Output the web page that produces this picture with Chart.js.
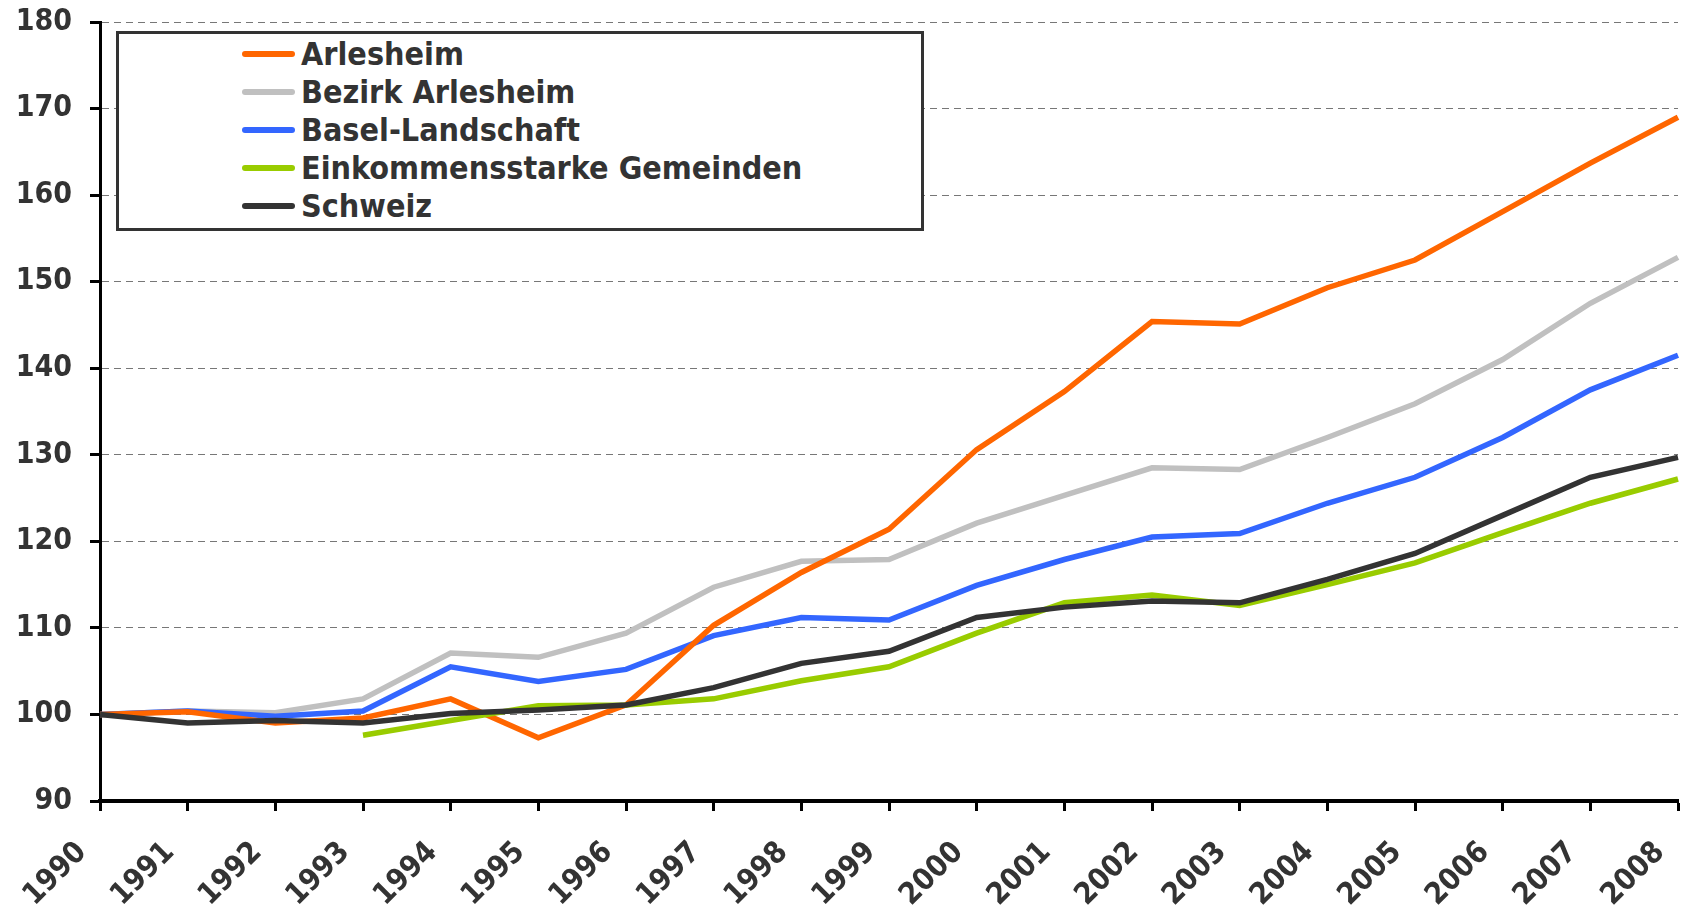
<!DOCTYPE html>
<html>
<head>
<meta charset="utf-8">
<script src="https://cdn.jsdelivr.net/npm/chart.js@4/dist/chart.umd.min.js"></script>
<style>
  html, body { margin: 0; padding: 0; background: #fff; }
  #wrap { position: relative; width: 1681px; height: 909px; }
  #legend {
    position: absolute; left: 116px; top: 31px; width: 802px; height: 194px;
    border: 3px solid #333; background: #fff;
    font-family: "DejaVu Sans Condensed", "DejaVu Sans", Verdana, sans-serif;
    font-weight: bold; font-size: 32px; color: #333;
  }
  .item { position: absolute; left: 123px; height: 38px; line-height: 38px; white-space: nowrap; }
  .swatch { position: absolute; left: 0; top: 16px; width: 53px; height: 6px; border-radius: 3px; }
  .label { position: absolute; left: 59px; top: 0; }
</style>
</head>
<body>
<div id="wrap">
  <canvas id="myChart" width="1681" height="909"></canvas>
  <div id="legend"></div>
</div>
<script>
// data
const years = ['1990', '1991', '1992', '1993', '1994', '1995', '1996', '1997', '1998', '1999',
               '2000', '2001', '2002', '2003', '2004', '2005', '2006', '2007', '2008'];
const seriesNames = ['Arlesheim', 'Bezirk Arlesheim', 'Basel-Landschaft', 'Einkommensstarke Gemeinden', 'Schweiz'];
const arlesheim = [100, 100.3, 99.0, 99.6, 101.8, 97.3, 101.1, 110.3, 116.4, 121.4, 130.6, 137.3, 145.4, 145.1, 149.3, 152.5, 158.1, 163.7, 169.0];
const bezirkArlesheim = [100, 100.4, 100.2, 101.8, 107.1, 106.6, 109.4, 114.7, 117.7, 117.9, 122.1, 125.3, 128.5, 128.3, 132.0, 135.9, 141.0, 147.5, 152.8];
const baselLandschaft = [100, 100.4, 99.8, 100.4, 105.5, 103.8, 105.2, 109.1, 111.2, 110.9, 114.9, 117.9, 120.5, 120.9, 124.4, 127.4, 132.0, 137.5, 141.5];
const einkommensstarke = [null, null, null, 97.6, 99.3, 101.0, 101.1, 101.8, 103.9, 105.5, 109.4, 112.9, 113.8, 112.6, 115.0, 117.5, 121.0, 124.4, 127.2];
const schweiz = [100, 99.0, 99.3, 99.0, 100.1, 100.5, 101.1, 103.1, 105.9, 107.3, 111.2, 112.4, 113.1, 112.9, 115.6, 118.6, 123.0, 127.4, 129.7];
const yTicks = [90, 100, 110, 120, 130, 140, 150, 160, 170, 180];

const colors = ['#FF6600', '#C0C0C0', '#3366FF', '#99CC00', '#333333'];
const allData = [arlesheim, bezirkArlesheim, baselLandschaft, einkommensstarke, schweiz];

// draw order: grey at the bottom, dark line on top
const drawOrder = [1, 2, 0, 3, 4];

const fontSpec = { family: '"DejaVu Sans Condensed", "DejaVu Sans", Verdana, sans-serif', weight: 'bold', size: 30 };

let ctx = document.getElementById('myChart').getContext('2d');
let myChart = new Chart(ctx, {
    type: 'line',
    data: {
        labels: years,
        datasets: seriesNames.map((name, i) => ({
            label: name,
            data: allData[i],
            borderColor: colors[i],
            backgroundColor: colors[i],
            borderWidth: 5.5,
            pointRadius: 0,
            tension: 0,
            fill: false,
            order: drawOrder.length - drawOrder.indexOf(i)
        }))
    },
    options: {
        responsive: false,
        animation: false,
        layout: { padding: { top: 22, right: 3, left: 0, bottom: 0 } },
        plugins: {
            legend: { display: false },
            tooltip: { enabled: false }
        },
        scales: {
            x: {
                offset: false,
                grid: { drawOnChartArea: false, tickColor: '#000', tickWidth: 3, tickLength: 10 },
                border: { color: '#000', width: 4 },
                ticks: {
                    color: '#333', font: fontSpec, minRotation: 45, maxRotation: 45,
                    padding: 24, labelOffset: -18, autoSkip: false
                },
                afterFit: s => { s.height = 108; s.paddingLeft = 0; s.paddingRight = 0; }
            },
            y: {
                min: yTicks[0],
                max: yTicks[yTicks.length - 1],
                afterBuildTicks: s => { s.ticks = yTicks.map(v => ({ value: v })); },
                grid: { color: '#777', lineWidth: 1, tickColor: '#000', tickWidth: 3, tickLength: 10 },
                border: { color: '#000', width: 3, dash: [7, 5] },
                ticks: { color: '#333', font: fontSpec, padding: 18 },
                afterFit: s => { s.width = 100; s.paddingTop = 0; s.paddingBottom = 0; }
            }
        }
    }
});

// html legend
const legendBox = document.getElementById('legend');
seriesNames.forEach((name, i) => {
    const row = document.createElement('div');
    row.className = 'item';
    row.style.top = (1 + i * 38) + 'px';
    row.innerHTML = '<span class="swatch" style="background:' + colors[i] + '"></span><span class="label">' + name + '</span>';
    legendBox.appendChild(row);
});
</script>
</body>
</html>
